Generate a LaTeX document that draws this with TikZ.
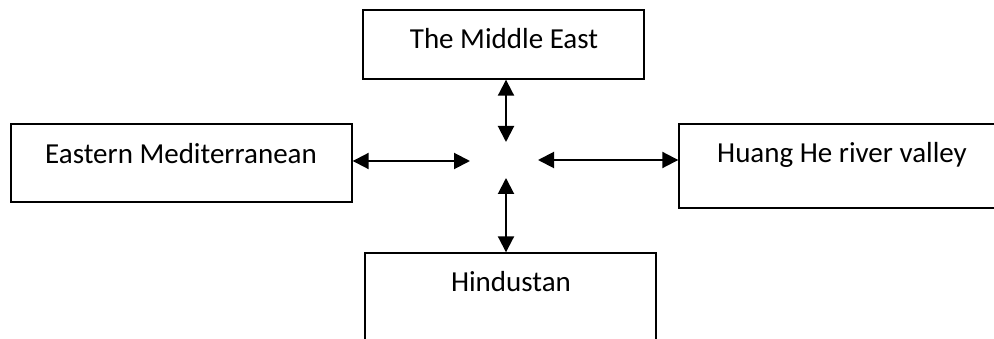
\documentclass[tikz,border=0pt]{standalone}
\usepackage{fontspec}
\setmainfont{Carlito}
\usetikzlibrary{arrows.meta}
\begin{document}
\begin{tikzpicture}[x=1pt,y=-1pt,
  region/.style={draw=black,line width=1.4pt,fill=none,inner sep=0pt,rectangle},
  lbl/.style={anchor=base,inner sep=0pt,font=\fontsize{29}{34}\selectfont},
  link/.style={line width=2pt,{Triangle[length=16pt,width=16pt]}-{Triangle[length=16pt,width=16pt]}}]
\useasboundingbox (0,0) rectangle (994,339);
\clip (0,0) rectangle (994,339);
% boxes
\node[region,minimum width=281pt,minimum height=69pt] (me) at (503.5,44.5) {};
\node[region,minimum width=341pt,minimum height=78pt] (em) at (181.5,163) {};
\node[region,minimum width=326pt,minimum height=84pt] (hh) at (842,166) {};
\node[region,minimum width=291pt,minimum height=120pt] (hi) at (510.5,313) {};
% texts
\node[lbl] (tme) at (504,49) {The Middle East};
\node[lbl] (tem) at (181,164) {Eastern Mediterranean};
\node[lbl] (thh) at (842,163) {Huang He river valley};
\node[lbl] (thi) at (511,291) {Hindustan};
% free ends near centre
\coordinate (cN) at (506,142);
\coordinate (cW) at (470,161);
\coordinate (cE) at (538,160);
\coordinate (cS) at (506,178);
% connectors
\draw[link] (me.south -| cN) -- (cN);
\draw[link] (em.east |- cW) -- (cW);
\draw[link] (cE) -- (hh.west |- cE);
\draw[link] (cS) -- (hi.north -| cS);
\end{tikzpicture}
\end{document}
